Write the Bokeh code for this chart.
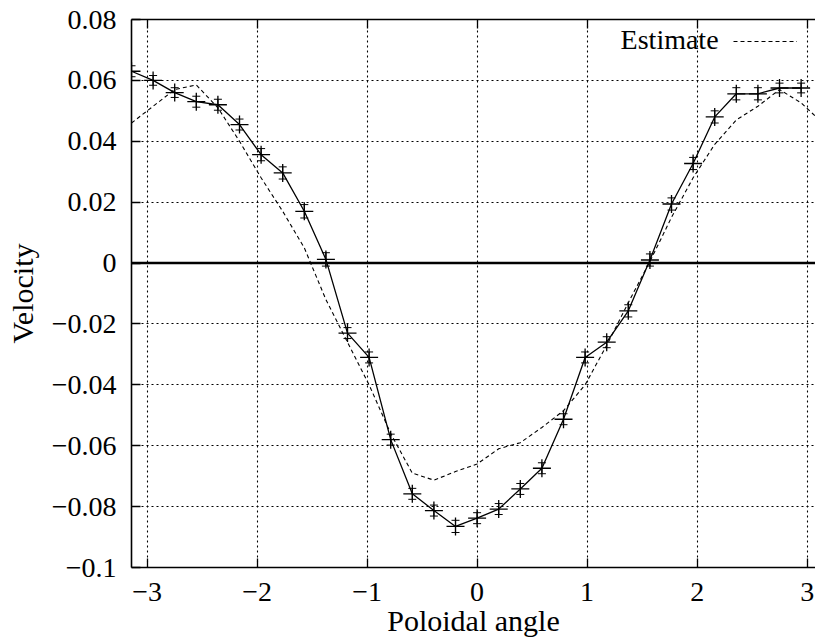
import math
from bokeh.plotting import figure
from bokeh.models import (ColumnDataSource, FixedTicker, CustomJSTickFormatter, Span,
                          Whisker, TeeHead, Legend, LegendItem, Label, LinearAxis, Range1d)
from bokeh.embed import file_html
from bokeh.resources import INLINE

# ---- data ----
n_pts = 32
angle = [-math.pi + k * 2 * math.pi / n_pts for k in range(n_pts)]
velocity = [0.063, 0.060, 0.056, 0.053, 0.052, 0.0455, 0.0356, 0.0296, 0.017, 0.0012,
            -0.023, -0.031, -0.058, -0.0758, -0.0813, -0.0865, -0.0838, -0.0808, -0.0742, -0.0674,
            -0.0513, -0.031, -0.026, -0.0157, 0.001, 0.0194, 0.0327, 0.048, 0.0556, 0.0556,
            0.0575, 0.0575]
error = [0.0018, 0.0016, 0.0016, 0.0018, 0.0018, 0.0018, 0.0020, 0.0020, 0.0022, 0.0022,
         0.0018, 0.0018, 0.0018, 0.0018, 0.0018, 0.0020, 0.0018, 0.0018, 0.0018, 0.0018,
         0.0018, 0.0018, 0.0018, 0.0020, 0.0020, 0.0020, 0.0020, 0.0020, 0.0020, 0.0020,
         0.0016, 0.0016]
est_angle = [-math.pi + k * 2 * math.pi / n_pts for k in range(n_pts + 1)]
estimate = [0.046, 0.0515, 0.057, 0.0585, 0.051, 0.040, 0.028, 0.017, 0.005, -0.012,
            -0.026, -0.040, -0.056, -0.069, -0.0713, -0.0685, -0.066, -0.061, -0.059, -0.054,
            -0.0485, -0.040, -0.027, -0.013, 0.0005, 0.015, 0.028, 0.039, 0.047, 0.0515,
            0.057, 0.0526, 0.046]
x_ticks = [-3, -2, -1, 0, 1, 2, 3]
y_ticks = [-0.1, -0.08, -0.06, -0.04, -0.02, 0.0, 0.02, 0.04, 0.06, 0.08]
x_label = "Poloidal angle"
y_label = "Velocity"
legend_text = "Estimate"

FONT = "Liberation Serif"
FS = "28px"
FS_LABEL = "30px"

src = ColumnDataSource(dict(x=angle, y=velocity,
                            lo=[v - e for v, e in zip(velocity, error)],
                            hi=[v + e for v, e in zip(velocity, error)]))
est_src = ColumnDataSource(dict(x=est_angle, y=estimate))

p = figure(width=815, height=642, output_backend="svg", toolbar_location=None,
           x_range=Range1d(-math.pi, 3.076), y_range=Range1d(-0.1, 0.08),
           min_border_left=131, min_border_right=0, min_border_top=19, min_border_bottom=75)
p.outline_line_color = None
p.background_fill_color = "white"

fmt = CustomJSTickFormatter(code="""
const v = Math.round(tick*100)/100;
if (v == 0) return "0";
return (v < 0 ? "\\u2212" : "") + Math.abs(v).toString();
""")

for ax, ticks in ((p.xaxis[0], x_ticks), (p.yaxis[0], y_ticks)):
    ax.ticker = FixedTicker(ticks=ticks)
    ax.formatter = fmt
    ax.major_label_text_font = FONT
    ax.major_label_text_font_size = FS
    ax.major_label_text_color = "black"
    ax.axis_label_text_font = FONT
    ax.axis_label_text_font_size = FS_LABEL
    ax.axis_label_text_font_style = "normal"
    ax.axis_label_text_color = "black"
    ax.axis_line_color = "black"
    ax.axis_line_width = 1.6
    ax.major_tick_in = 9
    ax.major_tick_out = 0
    ax.major_tick_line_color = "black"
    ax.major_tick_line_width = 1.3
    ax.minor_tick_line_color = None

p.xaxis[0].axis_label = x_label
p.xaxis[0].major_label_standoff = 15
p.xaxis[0].axis_label_standoff = 0
p.yaxis[0].axis_label = y_label
p.yaxis[0].major_label_standoff = 15
p.yaxis[0].axis_label_standoff = 10

top = LinearAxis(ticker=FixedTicker(ticks=x_ticks), major_label_text_font_size="1px",
                 major_label_text_alpha=0, major_tick_in=9, major_tick_out=0,
                 axis_line_width=1.6, axis_line_color="black", major_tick_line_width=1.3,
                 minor_tick_line_color=None, major_label_standoff=0)
p.add_layout(top, "above")

for g, ticks in ((p.xgrid[0], x_ticks), (p.ygrid[0], y_ticks)):
    g.ticker = FixedTicker(ticks=ticks)
    g.grid_line_color = "black"
    g.grid_line_dash = "2 3"
    g.grid_line_width = 1.1

p.add_layout(Span(location=0, dimension="width", line_color="black", line_width=2.6))

est_r = p.line("x", "y", source=est_src, line_color="black", line_dash="4 3", line_width=1.1)
p.line("x", "y", source=src, line_color="black", line_width=1.3)
p.add_layout(Whisker(base="x", lower="lo", upper="hi", source=src, line_color="black",
                     line_width=1.1,
                     lower_head=TeeHead(size=8, line_color="black", line_width=1),
                     upper_head=TeeHead(size=8, line_color="black", line_width=1)))
p.scatter("x", "y", source=src, marker="cross", size=18, line_color="black", line_width=1.3)

legend = Legend(items=[LegendItem(label=" ", renderers=[est_r])], location=(602, 516),
                glyph_width=64, glyph_height=20, label_standoff=0, padding=0, margin=0,
                spacing=0, border_line_color=None, background_fill_alpha=0,
                label_text_font_size="1px", label_width=0, label_height=20)
p.add_layout(legend)
p.add_layout(Label(x=2.195, y=0.0733, text=legend_text, text_align="right",
                   text_baseline="middle", text_font=FONT, text_font_size=FS,
                   text_color="black"))

open("out.html", "w").write(file_html(p, INLINE))
